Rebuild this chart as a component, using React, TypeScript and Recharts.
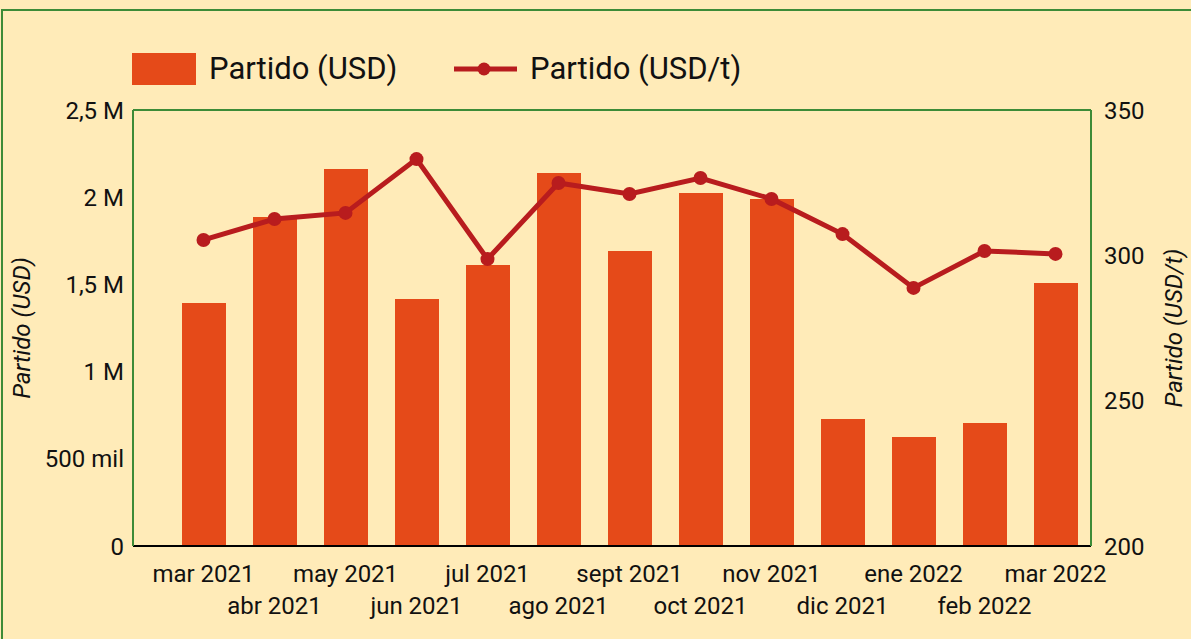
import React from 'react'
import { ComposedChart, Bar, Line, XAxis, YAxis, ReferenceLine } from 'recharts'

const months = ['mar 2021', 'abr 2021', 'may 2021', 'jun 2021', 'jul 2021', 'ago 2021', 'sept 2021', 'oct 2021', 'nov 2021', 'dic 2021', 'ene 2022', 'feb 2022', 'mar 2022']
const partidoUsd = [1393000, 1886000, 2162000, 1416000, 1611000, 2139000, 1691000, 2024000, 1990000, 728000, 625000, 705000, 1508000]
const partidoUsdT = [305.3, 312.5, 314.6, 333.1, 298.7, 324.9, 321.1, 326.6, 319.4, 307.3, 288.8, 301.5, 300.5]
const leftTicks = [0, 500000, 1000000, 1500000, 2000000, 2500000]
const leftTickLabels = ['0', '500 mil', '1 M', '1,5 M', '2 M', '2,5 M']
const rightTicks = [200, 250, 300, 350]

const data = months.map((m, i) => ({ month: m, usd: partidoUsd[i], usdt: partidoUsdT[i] }))

const BG = '#FFEBB8'
const GREEN = '#3D8B37'
const BAR = '#E54A19'
const LINE = '#B81C1E'
const FONT = 'Roboto, sans-serif'

function MonthTick(props: any) {
    const { x, y, payload, index } = props
    const dy = index % 2 === 1 ? 60 : 28
    return (
        <text x={x} y={y + dy} textAnchor='middle' fontSize={24} fontFamily={FONT} fill='#111'>
            {payload.value}
        </text>
    )
}

export default function App() {
    return (
        <div style={{ position: 'absolute', left: 0, top: 0, width: 1191, height: 639, background: BG, overflow: 'hidden' }}>
            <div style={{ position: 'absolute', left: 1, top: 9, width: 1200, height: 700, borderLeft: `2px solid ${GREEN}`, borderTop: `2px solid ${GREEN}` }} />

            {/* legend */}
            <div style={{ position: 'absolute', left: 132, top: 53, width: 64, height: 32, background: BAR }} />
            <div style={{ position: 'absolute', left: 209, top: 49, fontFamily: FONT, fontSize: 31, color: '#111', lineHeight: '40px' }}>Partido (USD)</div>
            <svg style={{ position: 'absolute', left: 450, top: 55, overflow: 'visible' }} width={72} height={28}>
                <line x1={4} y1={14} x2={67} y2={14} stroke={LINE} strokeWidth={5} />
                <circle cx={34} cy={14} r={6.5} fill={LINE} />
            </svg>
            <div style={{ position: 'absolute', left: 530, top: 49, fontFamily: FONT, fontSize: 31, color: '#111', lineHeight: '40px' }}>Partido (USD/t)</div>

            <div style={{ position: 'absolute', left: 0, top: 0 }}>
                <ComposedChart width={1191} height={639} data={data} margin={{ top: 110, right: 0, bottom: 0, left: 0 }}>
                    <XAxis
                        dataKey='month'
                        interval={0}
                        height={93}
                        padding={{ left: 35, right: 0 }}
                        tickLine={false}
                        axisLine={{ stroke: '#000', strokeWidth: 2 }}
                        tick={<MonthTick />}
                    />
                    <YAxis
                        yAxisId='left'
                        width={133}
                        domain={[0, 2500000]}
                        ticks={leftTicks}
                        tickFormatter={(v: number) => leftTickLabels[leftTicks.indexOf(v)]}
                        tickLine={false}
                        tickMargin={3}
                        axisLine={{ stroke: GREEN, strokeWidth: 2 }}
                        tick={{ fontSize: 24, fontFamily: FONT, fill: '#111' }}
                        label={{ value: 'Partido (USD)', angle: -90, position: 'insideLeft', offset: 0, dx: 21, style: { fontSize: 24, fontFamily: FONT, fontStyle: 'italic', fill: '#111', textAnchor: 'middle' } }}
                    />
                    <YAxis
                        yAxisId='right'
                        orientation='right'
                        width={100}
                        domain={[200, 350]}
                        ticks={rightTicks}
                        tickLine={false}
                        tickMargin={7}
                        axisLine={{ stroke: GREEN, strokeWidth: 2 }}
                        tick={{ fontSize: 24, fontFamily: FONT, fill: '#111' }}
                        label={{ value: 'Partido (USD/t)', angle: -90, position: 'insideRight', offset: 0, dx: -18, style: { fontSize: 24, fontFamily: FONT, fontStyle: 'italic', fill: '#111', textAnchor: 'middle' } }}
                    />
                    <ReferenceLine yAxisId='left' y={2500000} stroke={GREEN} strokeWidth={2} />
                    <Bar yAxisId='left' dataKey='usd' fill={BAR} barSize={44} isAnimationActive={false} />
                    <Line
                        yAxisId='right'
                        dataKey='usdt'
                        type='linear'
                        stroke={LINE}
                        strokeWidth={5}
                        dot={{ r: 7, fill: LINE, stroke: 'none' }}
                        isAnimationActive={false}
                    />
                </ComposedChart>
            </div>
        </div>
    )
}
